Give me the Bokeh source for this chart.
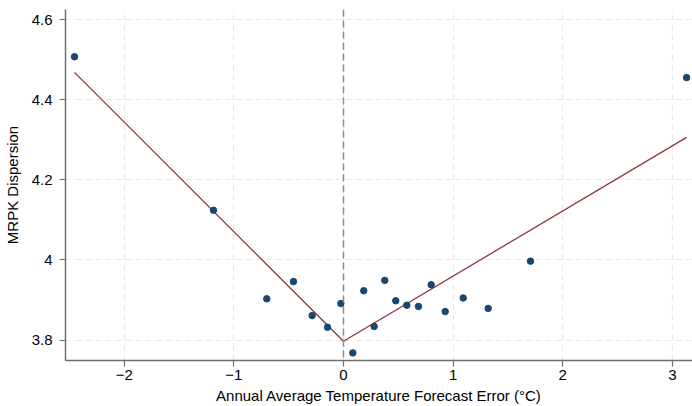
from bokeh.plotting import figure
from bokeh.models import Range1d, FixedTicker, Span
from bokeh.embed import file_html
from bokeh.resources import INLINE

# data
pt_x = [-2.454, -1.186, -0.70, -0.456, -0.286, -0.146, -0.024, 0.085, 0.185, 0.28,
        0.377, 0.477, 0.578, 0.684, 0.80, 0.928, 1.092, 1.32, 1.706, 3.13]
pt_y = [4.507, 4.124, 3.903, 3.946, 3.861, 3.832, 3.891, 3.768, 3.923, 3.834,
        3.949, 3.898, 3.887, 3.884, 3.938, 3.871, 3.905, 3.879, 3.997, 4.455]
fit_left_x = [-2.454, 0.0]
fit_left_y = [4.468, 3.797]
fit_right_x = [0.0, 3.13]
fit_right_y = [3.797, 4.306]
x_ticks = [-2, -1, 0, 1, 2, 3]
y_ticks = [3.8, 4.0, 4.2, 4.4, 4.6]
y_tick_labels = {3.8: "3.8", 4.0: "4", 4.2: "4.2", 4.4: "4.4", 4.6: "4.6"}

FONT = "Liberation Sans"

p = figure(width=692, height=406, output_backend="svg", toolbar_location=None,
           x_range=Range1d(-2.536, 3.184), y_range=Range1d(3.749, 4.625))
p.min_border_left = 65
p.min_border_right = 0
p.min_border_top = 9
p.min_border_bottom = 44
p.outline_line_color = None
p.background_fill_color = "white"
p.border_fill_color = "white"

for g in (p.xgrid, p.ygrid):
    g.grid_line_color = "#e8e8e8"
    g.grid_line_dash = "6 4"
    g.grid_line_width = 1.2
p.xgrid.ticker = FixedTicker(ticks=x_ticks)
p.ygrid.ticker = FixedTicker(ticks=y_ticks)

p.xaxis.ticker = FixedTicker(ticks=x_ticks)
p.yaxis.ticker = FixedTicker(ticks=y_ticks)
p.yaxis.major_label_overrides = y_tick_labels
for ax in (p.xaxis, p.yaxis):
    ax.axis_line_color = "#707070"
    ax.axis_line_width = 1.5
    ax.major_tick_line_color = "#707070"
    ax.major_tick_line_width = 1.2
    ax.major_tick_out = 6
    ax.major_tick_in = 0
    ax.minor_tick_line_color = None
    ax.major_label_text_font = FONT
    ax.major_label_text_font_size = "15px"
    ax.major_label_text_color = "black"
    ax.axis_label_text_font = FONT
    ax.axis_label_text_font_size = "15px"
    ax.axis_label_text_font_style = "normal"
    ax.axis_label_text_color = "black"
p.yaxis.major_label_orientation = "horizontal"
p.xaxis.axis_label = "Annual Average Temperature Forecast Error (°C)"
p.yaxis.axis_label = "MRPK Dispersion"
p.xaxis.major_label_standoff = 3
p.yaxis.major_label_standoff = 7
p.xaxis.axis_label_standoff = 4
p.yaxis.axis_label_standoff = 8

p.add_layout(Span(location=0, dimension="height", line_color="#8c8c8c",
                  line_dash="7 4", line_width=1.5))

p.line(fit_left_x, fit_left_y, line_color="#90353b", line_width=1.3)
p.line(fit_right_x, fit_right_y, line_color="#90353b", line_width=1.3)
p.scatter(pt_x, pt_y, size=6.5, fill_color="#1a476f", line_color="#1a476f")

open("out.html", "w").write(file_html(p, INLINE))
